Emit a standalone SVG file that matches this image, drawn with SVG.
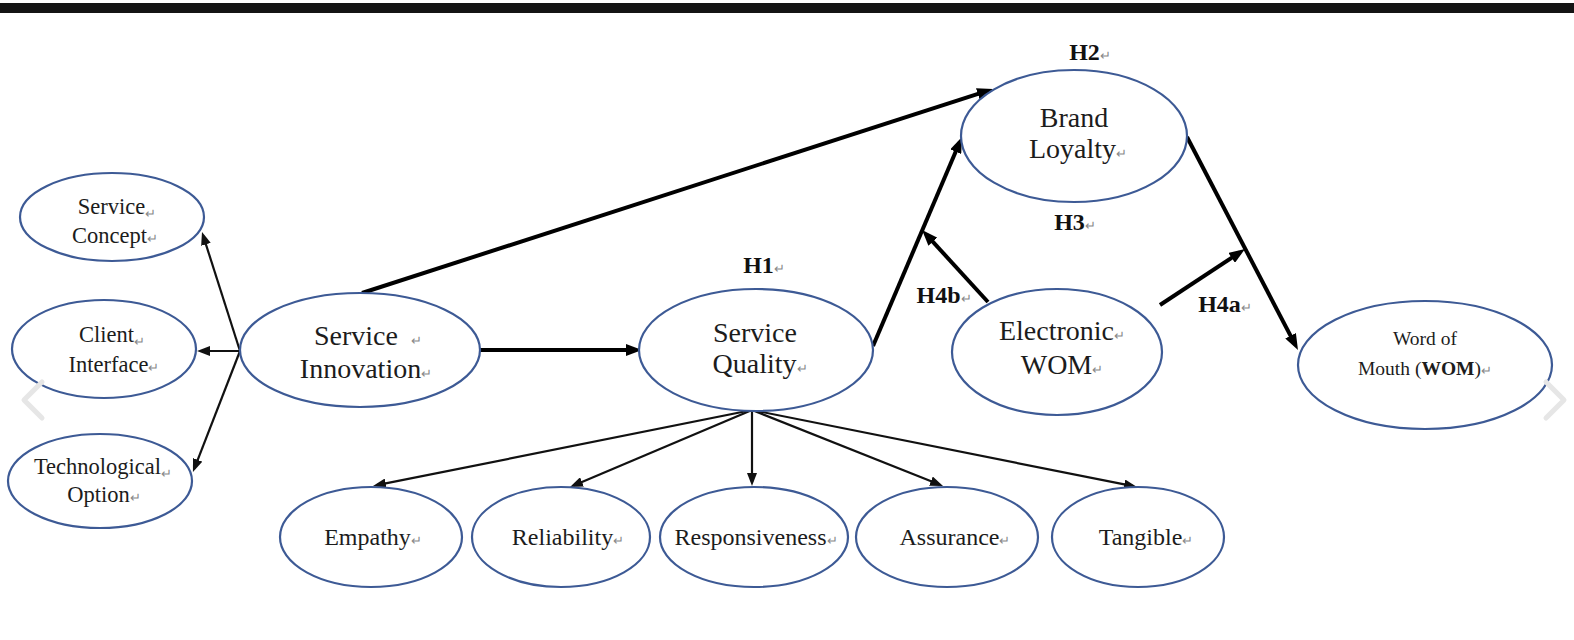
<svg xmlns="http://www.w3.org/2000/svg" width="1574" height="640" viewBox="0 0 1574 640">
<style>
.n{fill:#fff;stroke:#3d5a95;stroke-width:2.2}
.t{font-family:"Liberation Serif","Times New Roman",serif;fill:#1c1c1c;text-anchor:middle}
.big{font-size:28px}
.sm{font-size:22.5px}
.bt{font-size:24px}
.h{font-family:"Liberation Serif","Times New Roman",serif;font-weight:bold;font-size:24px;fill:#111;text-anchor:middle}
.r{font-size:13px;fill:#888;font-weight:normal}
.thin{stroke:#111;stroke-width:2.2;fill:none;marker-end:url(#a1)}
.thick{stroke:#000;stroke-width:4;fill:none;marker-end:url(#a2)}
.chev{fill:none;stroke:#e6e6e6;stroke-width:5;stroke-linecap:round;stroke-linejoin:round}
</style>
<defs>
<marker id="a1" markerUnits="userSpaceOnUse" markerWidth="13" markerHeight="10" viewBox="0 0 13 10" refX="9" refY="5" orient="auto"><path d="M0,0 L13,5 L0,10 z" fill="#111"/></marker>
<marker id="a2" markerUnits="userSpaceOnUse" markerWidth="16" markerHeight="12" viewBox="0 0 16 12" refX="10" refY="6" orient="auto"><path d="M0,0 L16,6 L0,12 z" fill="#000"/></marker>
</defs>
<rect x="0" y="0" width="1574" height="640" fill="#fff"/>
<rect x="0" y="3" width="1574" height="10" fill="#141414"/>

<g id="connectors">
<line class="thin" x1="240" y1="351" x2="203.2" y2="235.8"/>
<line class="thin" x1="240" y1="351" x2="201" y2="351"/>
<line class="thin" x1="240" y1="351" x2="194.4" y2="468.3"/>
<line class="thick" x1="480" y1="350" x2="636" y2="350"/>
<line class="thick" x1="362" y1="293" x2="987.3" y2="90.8"/>
<line class="thick" x1="873" y1="346" x2="959.6" y2="142.5"/>
<line class="thick" x1="988" y1="302" x2="926.1" y2="234.4"/>
<line class="thick" x1="1187" y1="137" x2="1295.2" y2="344.7"/>
<line class="thick" x1="1160" y1="305" x2="1240" y2="252.3"/>
<line class="thin" x1="752" y1="410" x2="376.9" y2="485.2"/>
<line class="thin" x1="752" y1="410" x2="573.7" y2="485.4"/>
<line class="thin" x1="752" y1="410" x2="752" y2="482"/>
<line class="thin" x1="752" y1="410" x2="939.3" y2="484.5"/>
<line class="thin" x1="752" y1="410" x2="1133.1" y2="486.2"/>
</g>

<g id="service-concept">
<ellipse class="n" cx="112" cy="217" rx="92" ry="44"/>
<text class="t sm" x="117" y="214">Service<tspan class="r" dy="4">↵</tspan></text>
<text class="t sm" x="115" y="243">Concept<tspan class="r">↵</tspan></text>
</g>
<g id="client-interface">
<ellipse class="n" cx="104" cy="349" rx="92" ry="49"/>
<text class="t sm" x="112" y="342">Client<tspan class="r" dy="4">↵</tspan></text>
<text class="t sm" x="114" y="372">Interface<tspan class="r">↵</tspan></text>
</g>
<g id="technological-option">
<ellipse class="n" cx="100" cy="481" rx="92" ry="47"/>
<text class="t sm" x="103" y="474">Technological<tspan class="r" dy="4">↵</tspan></text>
<text class="t sm" x="104" y="502">Option<tspan class="r">↵</tspan></text>
</g>
<g id="service-innovation">
<ellipse class="n" cx="360" cy="350" rx="120" ry="57"/>
<text class="t big" x="368" y="345">Service <tspan class="r" dx="6">↵</tspan></text>
<text class="t big" x="366" y="378">Innovation<tspan class="r">↵</tspan></text>
</g>
<g id="service-quality">
<ellipse class="n" cx="756" cy="350" rx="117" ry="61"/>
<text class="t big" x="755" y="342">Service</text>
<text class="t big" x="760" y="373">Quality<tspan class="r">↵</tspan></text>
</g>
<g id="brand-loyalty">
<ellipse class="n" cx="1074" cy="136" rx="113" ry="66"/>
<text class="t big" x="1074" y="127">Brand</text>
<text class="t big" x="1078" y="158">Loyalty<tspan class="r">↵</tspan></text>
</g>
<g id="electronic-wom">
<ellipse class="n" cx="1057" cy="352" rx="105" ry="63"/>
<text class="t big" x="1062" y="340">Electronic<tspan class="r">↵</tspan></text>
<text class="t big" x="1062" y="374">WOM<tspan class="r">↵</tspan></text>
</g>
<g id="word-of-mouth">
<ellipse class="n" cx="1425" cy="365" rx="127" ry="64"/>
<text class="t" style="font-size:19.5px" x="1425" y="345">Word of</text>
<text class="t" style="font-size:19.5px" x="1425" y="375">Mouth (<tspan font-weight="bold">WOM</tspan>)<tspan class="r">↵</tspan></text>
</g>
<g id="empathy">
<ellipse class="n" cx="371" cy="537" rx="91" ry="50"/>
<text class="t bt" x="373" y="545">Empathy<tspan class="r">↵</tspan></text>
</g>
<g id="reliability">
<ellipse class="n" cx="561" cy="537" rx="89" ry="50"/>
<text class="t bt" x="568" y="545">Reliability<tspan class="r">↵</tspan></text>
</g>
<g id="responsiveness">
<ellipse class="n" cx="754" cy="537" rx="94" ry="50"/>
<text class="t bt" x="756" y="545">Responsiveness<tspan class="r">↵</tspan></text>
</g>
<g id="assurance">
<ellipse class="n" cx="947" cy="537" rx="91" ry="50"/>
<text class="t bt" x="955" y="545">Assurance<tspan class="r">↵</tspan></text>
</g>
<g id="tangible">
<ellipse class="n" cx="1138" cy="537" rx="86" ry="50"/>
<text class="t bt" x="1146" y="545">Tangible<tspan class="r">↵</tspan></text>
</g>

<g id="labels">
<text class="h" x="764" y="273">H1<tspan class="r">↵</tspan></text>
<text class="h" x="1090" y="60">H2<tspan class="r">↵</tspan></text>
<text class="h" x="1075" y="230">H3<tspan class="r">↵</tspan></text>
<text class="h" x="944" y="303">H4b<tspan class="r">↵</tspan></text>
<text class="h" x="1225" y="312">H4a<tspan class="r">↵</tspan></text>
</g>

<polyline class="chev" points="42,382 24,400 42,418"/>
<polyline class="chev" points="1546,382 1564,400 1546,418"/>
</svg>
